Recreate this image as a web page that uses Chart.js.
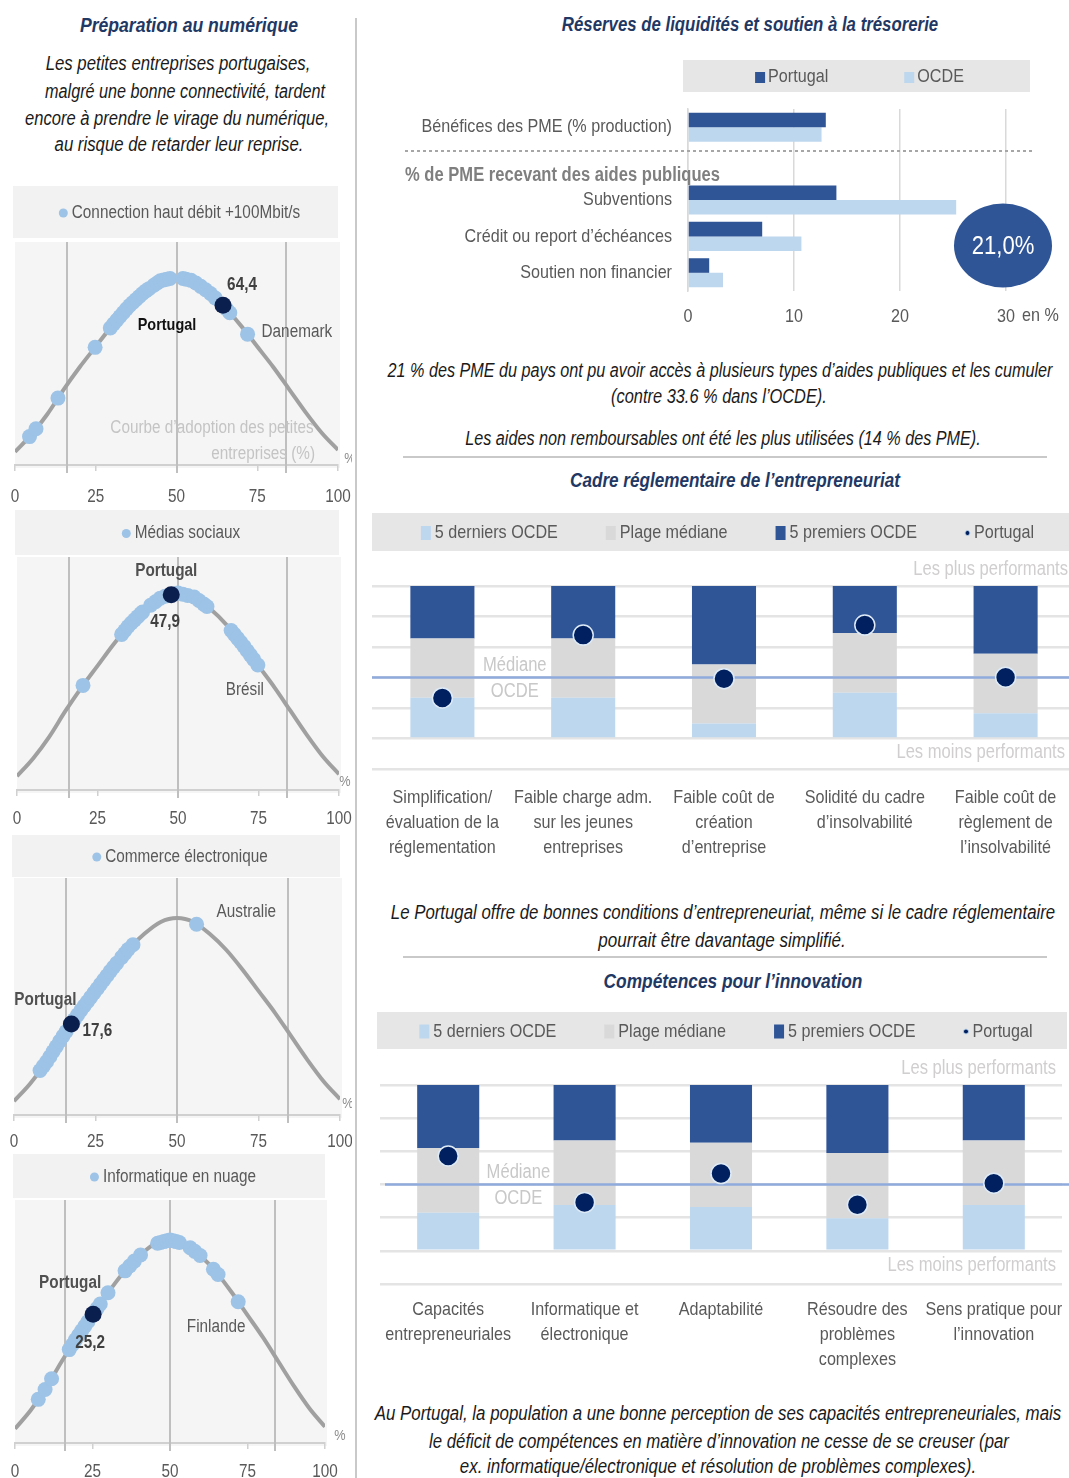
<!DOCTYPE html>
<html lang="fr">
<head>
<meta charset="utf-8">
<title>Portugal – PME : numérique, trésorerie, entrepreneuriat, compétences</title>
<script src="https://cdn.jsdelivr.net/npm/chart.js@4.4.1/dist/chart.umd.min.js"></script>
<style>
  html, body { margin: 0; padding: 0; background: #fff; }
  body {
    width: 1069px; height: 1478px; position: relative; overflow: hidden;
    font-family: "Liberation Sans Narrow", "Arial Narrow", "Liberation Sans", Arial, sans-serif;
  }
  /* centred, horizontally compressed lettering */
  .t { position: absolute; white-space: nowrap; text-align: center;
       transform: translate(-50%, -50%) scaleX(var(--k, 0.85)); }
  .title { font-weight: bold; font-style: italic; color: #1F3864; font-size: 20px; }
  .note { font-style: italic; color: #1a1a1a; font-size: 19.5px; }
  .rule { position: absolute; background: #C9C9C9; }
  canvas { position: absolute; }
</style>
</head>
<body>

<!-- column divider and section rules -->
<div class="rule" style="left:355px; top:18px; width:2px; height:1460px;"></div>
<div class="rule" style="left:403px; top:456px; width:644px; height:2px;"></div>
<div class="rule" style="left:403px; top:956px; width:644px; height:2px;"></div>

<!-- left column text -->
<div class="t title" style="left:189px; top:25px; --k:0.88;">Préparation au numérique</div>
<div class="t note" style="left:178px; top:63px; --k:0.86;">Les petites entreprises portugaises,</div>
<div class="t note" style="left:185px; top:91px; --k:0.83;">malgré une bonne connectivité, tardent</div>
<div class="t note" style="left:177px; top:118px; --k:0.85;">encore à prendre le virage du numérique,</div>
<div class="t note" style="left:179px; top:144px; --k:0.86;">au risque de retarder leur reprise.</div>

<!-- right column text -->
<div class="t title" style="left:750px; top:24px; --k:0.84;">Réserves de liquidités et soutien à la trésorerie</div>
<div class="t note" style="left:720px; top:370px; --k:0.83;">21 % des PME du pays ont pu avoir accès à plusieurs types d’aides publiques et les cumuler</div>
<div class="t note" style="left:719px; top:396px; --k:0.84;">(contre 33.6 % dans l’OCDE).</div>
<div class="t note" style="left:723px; top:438px; --k:0.83;">Les aides non remboursables ont été les plus utilisées (14 % des PME).</div>
<div class="t title" style="left:735px; top:480px; --k:0.855;">Cadre réglementaire de l’entrepreneuriat</div>
<div class="t note" style="left:723px; top:912px; --k:0.862;">Le Portugal offre de bonnes conditions d’entrepreneuriat, même si le cadre réglementaire</div>
<div class="t note" style="left:722px; top:940px; --k:0.875;">pourrait être davantage simplifié.</div>
<div class="t title" style="left:733px; top:981px; --k:0.866;">Compétences pour l’innovation</div>
<div class="t note" style="left:718px; top:1413px; --k:0.865;">Au Portugal, la population a une bonne perception de ses capacités entrepreneuriales, mais</div>
<div class="t note" style="left:719px; top:1441px; --k:0.86;">le déficit de compétences en matière d’innovation ne cesse de se creuser (par</div>
<div class="t note" style="left:718px; top:1466px; --k:0.866;">ex. informatique/électronique et résolution de problèmes complexes).</div>

<!-- charts -->
<canvas id="adopt1" width="352" height="319" style="left:0; top:186px;"></canvas>
<canvas id="adopt2" width="352" height="320" style="left:0; top:510px;"></canvas>
<canvas id="adopt3" width="352" height="320" style="left:0; top:835px;"></canvas>
<canvas id="adopt4" width="352" height="329" style="left:0; top:1154px;"></canvas>
<canvas id="support" width="689" height="280" style="left:380px; top:55px;"></canvas>
<canvas id="regulation" width="704" height="356" style="left:372px; top:513px;"></canvas>
<canvas id="skills" width="692" height="372" style="left:377px; top:1012px;"></canvas>

<script>
const FONT_FAMILY = '"Liberation Sans Narrow", "Arial Narrow", "Liberation Sans", Arial, sans-serif';
const TEXT_SQUEEZE = 0.85;
Chart.defaults.font.family = FONT_FAMILY;
Chart.defaults.color = '#595959';
Chart.defaults.animation = false;

/* ---------------- data ---------------- */

// Adoption curve: height (as % of its peak) at each adoption rate
const CURVE_RATES  = [0, 5, 10, 15, 20, 25, 30, 35, 40, 45, 50, 55, 60, 65, 70, 75, 80, 85, 90, 95, 100];
const CURVE_HEIGHT = [7, 16, 27, 40, 52, 63, 74, 84, 92, 98, 100, 98, 92, 84, 74, 63, 52, 40, 28, 17, 8];
const SIGMA_MARKS  = [16, 50, 84];
const RATE_TICKS   = [0, 25, 50, 75, 100];

// Share of small firms using each technology, by country (%)
const BROADBAND_RATES = [4.5, 6.5, 13.3, 24.8, 29.5, 30.5, 31.5, 32.5, 33.5, 34.5, 35.5, 36.5, 37.5, 38.5,
  39.5, 40.5, 41.5, 43, 44, 45, 46, 47, 48, 52, 53, 54.5, 56, 57.5, 59, 60.5, 62, 65.5, 66.5, 72];
const BROADBAND_PORTUGAL = 64.4;
const BROADBAND_DENMARK = 72;

const SOCIAL_RATES = [20.5, 32.5, 33.5, 34.5, 35.5, 36.5, 37.5, 38.5, 39, 41.5, 43, 44.5, 46, 50, 51.5,
  53, 55, 56.5, 58, 59, 66.5, 67.5, 68.5, 69.5, 70.5, 71.5, 72.5, 73.5, 74.8];
const SOCIAL_PORTUGAL = 47.9;
const SOCIAL_BRAZIL = 74.8;

const ECOMMERCE_RATES = [8, 9, 10, 11, 12, 13, 14, 15, 16, 18.5, 19.5, 20.5, 21.5, 22.5, 23.5, 24.5,
  25.5, 26.5, 27.5, 28.5, 29.5, 30.5, 31.5, 33, 34, 35, 36.5, 56];
const ECOMMERCE_PORTUGAL = 17.6;
const ECOMMERCE_AUSTRALIA = 56;

const CLOUD_RATES = [7.5, 9.7, 11.8, 17.5, 18.5, 19.5, 20.5, 21.5, 22.5, 23.5, 26.5, 27.5, 30, 35.5, 37,
  38.5, 40.5, 46, 47, 48, 49, 50, 51, 52, 53, 56.5, 58, 59.7, 64, 65.5, 72];
const CLOUD_PORTUGAL = 25.2;
const CLOUD_FINLAND = 72;

// Liquidity and cash-flow support (%)
const SUPPORT_LABELS   = ['Bénéfices des PME (% production)', '', 'Subventions', 'Crédit ou report d’échéances', 'Soutien non financier'];
const SUPPORT_PORTUGAL = [13.0, null, 14.0, 7.0, 2.0];
const SUPPORT_OECD     = [12.6, null, 25.3, 10.7, 3.3];
const SUPPORT_TICKS    = [0, 10, 20, 30];
const SUPPORT_HEADING  = '% de PME recevant des aides publiques';
const MULTI_AID_SHARE  = 21.0;

// Normalised scores: bars span SCORE_MIN..SCORE_MAX, split at the edge of the
// five weakest and the five best OECD countries
const SCORE_MIN = 0;
const SCORE_MAX = 5;
const SCORE_AXIS_MIN = -1;
const OECD_MEDIAN = 2;

const REG_LABELS = [
  ['Simplification/', 'évaluation de la', 'réglementation'],
  ['Faible charge adm.', 'sur les jeunes', 'entreprises'],
  ['Faible coût de', 'création', 'd’entreprise'],
  ['Solidité du cadre', 'd’insolvabilité'],
  ['Faible coût de', 'règlement de', 'l’insolvabilité']
];
const REG_BOTTOM5  = [1.34, 1.34, 0.49, 1.50, 0.83];
const REG_TOP5     = [3.28, 3.28, 2.43, 3.46, 2.78];
const REG_PORTUGAL = [1.33, 3.39, 1.96, 3.72, 2.01];

const SKILL_LABELS = [
  ['Capacités', 'entrepreneuriales'],
  ['Informatique et', 'électronique'],
  ['Adaptabilité'],
  ['Résoudre des', 'problèmes', 'complexes'],
  ['Sens pratique pour', 'l’innovation']
];
const SKILL_BOTTOM5  = [1.15, 1.38, 1.32, 0.98, 1.38];
const SKILL_TOP5     = [3.10, 3.33, 3.26, 2.95, 3.33];
const SKILL_PORTUGAL = [2.86, 1.46, 2.33, 1.39, 2.04];

/* ---------------- helpers ---------------- */

const fmtComma = v => v.toFixed(1).replace('.', ',');

// height of the adoption curve at a given rate (points sit on the curve)
function curveAt(rate) {
  for (let i = 1; i < CURVE_RATES.length; i++) {
    if (rate <= CURVE_RATES[i]) {
      const t = (rate - CURVE_RATES[i - 1]) / (CURVE_RATES[i] - CURVE_RATES[i - 1]);
      return CURVE_HEIGHT[i - 1] + t * (CURVE_HEIGHT[i] - CURVE_HEIGHT[i - 1]);
    }
  }
  return CURVE_HEIGHT[CURVE_HEIGHT.length - 1];
}

function font(size, weight) {
  return `${weight || 'normal'} ${size}px ${FONT_FAMILY}`;
}

// narrow lettering on a canvas: text is drawn and measured horizontally compressed
function narrowCanvas(id) {
  const canvas = document.getElementById(id);
  const ctx = canvas.getContext('2d');
  const fill = ctx.fillText.bind(ctx);
  const measure = ctx.measureText.bind(ctx);
  ctx.fillText = (text, x, y) => {
    ctx.save();
    ctx.translate(x, y);
    ctx.scale(TEXT_SQUEEZE, 1);
    fill(text, 0, 0);
    ctx.restore();
  };
  ctx.measureText = text => {
    const m = measure(text);
    return {
      width: m.width * TEXT_SQUEEZE,
      actualBoundingBoxLeft: m.actualBoundingBoxLeft * TEXT_SQUEEZE,
      actualBoundingBoxRight: m.actualBoundingBoxRight * TEXT_SQUEEZE,
      actualBoundingBoxAscent: m.actualBoundingBoxAscent,
      actualBoundingBoxDescent: m.actualBoundingBoxDescent,
      fontBoundingBoxAscent: m.fontBoundingBoxAscent,
      fontBoundingBoxDescent: m.fontBoundingBoxDescent
    };
  };
  return canvas;
}

// a row of legend entries centred on (cx, cy)
function legendRow(ctx, items, cx, cy, gap, size) {
  ctx.save();
  ctx.font = font(size);
  ctx.textBaseline = 'middle';
  ctx.textAlign = 'left';
  const widths = items.map(it => it.mw + it.mg + ctx.measureText(it.text).width);
  let x = cx - (widths.reduce((s, w) => s + w, 0) + gap * (items.length - 1)) / 2;
  items.forEach((it, i) => {
    ctx.fillStyle = it.color;
    if (it.shape === 'dot') {
      ctx.beginPath();
      ctx.arc(x + it.mw / 2, cy + (it.dy || 0), it.mw / 2, 0, Math.PI * 2);
      ctx.fill();
      if (it.ring) { ctx.strokeStyle = it.ring; ctx.lineWidth = 1; ctx.stroke(); }
    } else {
      ctx.fillRect(x, cy + it.dy, it.mw, it.mh);
    }
    ctx.fillStyle = '#595959';
    ctx.fillText(it.text, x + it.mw + it.mg, cy + 1);
    x += widths[i] + gap;
  });
  ctx.restore();
}

function drawText(ctx, text, x, y, o) {
  ctx.save();
  ctx.font = font(o.size || 18, o.bold ? 'bold' : 'normal');
  ctx.fillStyle = o.color || '#595959';
  ctx.textAlign = o.align || 'center';
  ctx.textBaseline = 'middle';
  ctx.fillText(text, x, y);
  ctx.restore();
}

/* ---------------- adoption curves ---------------- */

const adoptionDecor = {
  id: 'adoptionDecor',
  beforeDraw(chart, args, o) {
    const { ctx, chartArea: a } = chart;
    ctx.save();
    ctx.fillStyle = '#F2F2F2';
    ctx.fillRect(a.left - 2, 0, a.right - a.left + 2, o.legendHeight);
    ctx.fillStyle = '#F5F5F5';
    ctx.fillRect(a.left, a.top, a.right - a.left + 2, a.bottom - a.top + 3);
    ctx.restore();
    const ds = chart.data.datasets[1];
    legendRow(ctx, [{ text: ds.label, color: ds.backgroundColor, shape: 'dot', mw: 9, mg: 4, dy: 1 }],
      (a.left + a.right) / 2 + 3, o.legendHeight / 2, 0, 18);
  },
  beforeDatasetsDraw(chart) {
    const { ctx, chartArea: a, scales: { x } } = chart;
    ctx.save();
    ctx.strokeStyle = '#BFBFBF';
    ctx.lineWidth = 2;
    SIGMA_MARKS.forEach(v => {
      const px = Math.round(x.getPixelForValue(v));
      ctx.beginPath();
      ctx.moveTo(px, a.top);
      ctx.lineTo(px, a.bottom + 8);
      ctx.stroke();
    });
    ctx.restore();
  },
  afterDatasetsDraw(chart, args, o) {
    const { ctx, chartArea: a, scales: { x, y } } = chart;
    o.notes.forEach(n => {
      let px, py;
      if (n.rate !== undefined) {
        px = x.getPixelForValue(n.rate) + n.dx;
        py = y.getPixelForValue(curveAt(n.rate)) + n.dy;
      } else {
        px = (n.fromRight ? a.right : a.left) + n.dx;
        py = a.bottom + n.dy;
      }
      drawText(ctx, n.text, px, py, n);
    });
  }
};

function adoptionChart(id, p) {
  return new Chart(narrowCanvas(id), {
    type: 'scatter',
    data: {
      datasets: [
        {
          label: 'Portugal',
          data: [{ x: p.portugal, y: curveAt(p.portugal) }],
          backgroundColor: '#0B1F4F', pointRadius: 8.5, pointBorderWidth: 0, order: 0
        },
        {
          label: p.label,
          data: p.rates.map(r => ({ x: r, y: curveAt(r) })),
          backgroundColor: '#9DC3E6', pointRadius: 7.5, pointBorderWidth: 0, order: 1
        },
        {
          type: 'line', label: 'Courbe',
          data: CURVE_RATES.map((r, i) => ({ x: r, y: CURVE_HEIGHT[i] })),
          borderColor: '#A0A0A0', borderWidth: 4, pointRadius: 0,
          cubicInterpolationMode: 'monotone', order: 2
        }
      ]
    },
    options: {
      responsive: false,
      devicePixelRatio: 1,
      layout: { autoPadding: false, padding: { top: p.padTop, left: p.padLeft, right: p.padRight, bottom: 0 } },
      scales: {
        x: {
          type: 'linear', min: 0, max: 100,
          afterBuildTicks: s => { s.ticks = RATE_TICKS.map(v => ({ value: v })); },
          afterFit: s => { s.height = 40; s.paddingLeft = 0; s.paddingRight = 0; },
          grid: { drawOnChartArea: false, drawTicks: true, tickLength: 6, color: '#D0D0D0', lineWidth: 1.5 },
          border: { color: '#D0D0D0', width: 2 },
          ticks: { font: { size: 18 }, color: '#595959', padding: p.tickPad, maxRotation: 0 }
        },
        y: { display: false, min: 0, max: p.yMax }
      },
      plugins: {
        legend: { display: false },
        tooltip: { enabled: false },
        adoptionDecor: { legendHeight: p.legendH, notes: p.notes }
      }
    },
    plugins: [adoptionDecor]
  });
}

const AXIS_NOTE = { color: '#8C8C8C', size: 15 };

adoptionChart('adopt1', {
  label: 'Connection haut débit +100Mbit/s', rates: BROADBAND_RATES, portugal: BROADBAND_PORTUGAL,
  padTop: 56, padLeft: 15, padRight: 14, legendH: 52, tickPad: 15, yMax: 118.6,
  notes: [
    { text: 'Portugal', rate: BROADBAND_PORTUGAL, dx: -56, dy: 20, bold: true, color: '#111111', size: 17 },
    { text: fmtComma(BROADBAND_PORTUGAL), rate: BROADBAND_PORTUGAL, dx: 19, dy: -20, bold: true, color: '#404040', size: 18 },
    { text: 'Danemark', rate: BROADBAND_DENMARK, dx: 14, dy: -2, align: 'left', size: 18 },
    { text: 'Courbe d’adoption des petites', dx: 197, dy: -37, color: '#C4C4C4', size: 18 },
    { text: 'entreprises (%)', fromRight: true, dx: -23, dy: -11, align: 'right', color: '#C4C4C4', size: 18 },
    { text: '%', fromRight: true, dx: 12, dy: -6, ...AXIS_NOTE }
  ]
});

adoptionChart('adopt2', {
  label: 'Médias sociaux', rates: SOCIAL_RATES, portugal: SOCIAL_PORTUGAL,
  padTop: 47, padLeft: 17, padRight: 13, legendH: 45, tickPad: 12, yMax: 118.3,
  notes: [
    { text: 'Portugal', rate: SOCIAL_PORTUGAL, dx: -5, dy: -24, bold: true, color: '#505050', size: 18 },
    { text: fmtComma(SOCIAL_PORTUGAL), rate: SOCIAL_PORTUGAL, dx: -6, dy: 27, bold: true, color: '#404040', size: 18 },
    { text: 'Brésil', rate: SOCIAL_BRAZIL, dx: -13, dy: 25, size: 18 },
    { text: '%', fromRight: true, dx: 6, dy: -8, ...AXIS_NOTE }
  ]
});

adoptionChart('adopt3', {
  label: 'Commerce électronique', rates: ECOMMERCE_RATES, portugal: ECOMMERCE_PORTUGAL,
  padTop: 43, padLeft: 14, padRight: 12, legendH: 42, tickPad: 10, yMax: 120.3,
  notes: [
    { text: 'Portugal', rate: ECOMMERCE_PORTUGAL, dx: -26, dy: -24, bold: true, color: '#505050', size: 18 },
    { text: fmtComma(ECOMMERCE_PORTUGAL), rate: ECOMMERCE_PORTUGAL, dx: 26, dy: 7, bold: true, color: '#404040', size: 18 },
    { text: 'Australie', rate: ECOMMERCE_AUSTRALIA, dx: 20, dy: -12, align: 'left', size: 18 },
    { text: '%', fromRight: true, dx: 8, dy: -11, ...AXIS_NOTE }
  ]
});

adoptionChart('adopt4', {
  label: 'Informatique en nuage', rates: CLOUD_RATES, portugal: CLOUD_PORTUGAL,
  padTop: 46, padLeft: 15, padRight: 27, legendH: 44, tickPad: 12, yMax: 119.7,
  notes: [
    { text: 'Portugal', rate: CLOUD_PORTUGAL, dx: -23, dy: -31, bold: true, color: '#505050', size: 18 },
    { text: fmtComma(CLOUD_PORTUGAL), rate: CLOUD_PORTUGAL, dx: -3, dy: 29, bold: true, color: '#404040', size: 18 },
    { text: 'Finlande', rate: CLOUD_FINLAND, dx: -22, dy: 25, size: 18 },
    { text: '%', fromRight: true, dx: 15, dy: -7, ...AXIS_NOTE }
  ]
});

/* ---------------- liquidity support bars ---------------- */

const supportDecor = {
  id: 'supportDecor',
  beforeDraw(chart, args, o) {
    const { ctx } = chart;
    ctx.save();
    ctx.fillStyle = '#E7E6E6';
    ctx.fillRect(o.box.x, o.box.y, o.box.w, o.box.h);
    ctx.restore();
    const items = chart.data.datasets.map(d => ({
      text: d.label, color: d.backgroundColor, shape: 'square', mw: 10, mh: 11, dy: -4, mg: 3
    }));
    legendRow(ctx, items, o.box.x + o.box.w / 2 + 3, o.box.y + o.box.h / 2, 76, 19);
  },
  afterDraw(chart, args, o) {
    const { ctx, chartArea: a, scales: { x, y } } = chart;
    // separator between profits and public-support rows
    const sy = Math.round(y.getPixelForValue(0.65));
    ctx.save();
    ctx.strokeStyle = '#A6A6A6';
    ctx.lineWidth = 2;
    ctx.setLineDash([3, 3]);
    ctx.beginPath();
    ctx.moveTo(25, sy);
    ctx.lineTo(a.right + 27, sy);
    ctx.stroke();
    ctx.restore();
    // heading of the public-support block
    drawText(ctx, SUPPORT_HEADING, 25, y.getPixelForValue(1) + 12,
      { align: 'left', bold: true, color: '#7F7F7F', size: 19.5 });
    // unit after the last tick
    const last = SUPPORT_TICKS[SUPPORT_TICKS.length - 1];
    drawText(ctx, 'en %', x.getPixelForValue(last) + 16, x.top + o.tickPad + 19 * 1.2 / 2 - 1,
      { align: 'left', size: 19 });
    // share of firms combining several kinds of support
    const cy = y.getPixelForValue(3.25);
    ctx.save();
    ctx.fillStyle = '#2F5597';
    ctx.beginPath();
    ctx.ellipse(a.right - 3, cy, 49, 42, 0, 0, Math.PI * 2);
    ctx.fill();
    ctx.restore();
    drawText(ctx, fmtComma(MULTI_AID_SHARE) + '%', a.right - 3, cy + 1, { color: '#FFFFFF', size: 26 });
  }
};

new Chart(narrowCanvas('support'), {
  type: 'bar',
  data: {
    labels: SUPPORT_LABELS,
    datasets: [
      { label: 'Portugal', data: SUPPORT_PORTUGAL, backgroundColor: '#2F5597' },
      { label: 'OCDE', data: SUPPORT_OECD, backgroundColor: '#BDD7EE' }
    ]
  },
  options: {
    responsive: false,
    devicePixelRatio: 1,
    indexAxis: 'y',
    categoryPercentage: 0.8,
    barPercentage: 1.0,
    layout: { autoPadding: false, padding: { top: 54, left: 0, right: 63, bottom: 0 } },
    scales: {
      x: {
        min: 0, max: 30,
        afterBuildTicks: s => { s.ticks = SUPPORT_TICKS.map(v => ({ value: v })); },
        afterFit: s => { s.height = 44; s.paddingLeft = 0; s.paddingRight = 0; },
        grid: { color: '#D9D9D9', lineWidth: 1.5, drawTicks: false },
        border: { display: false },
        ticks: { font: { size: 19 }, color: '#595959', padding: 14.5 }
      },
      y: {
        afterFit: s => { s.width = 308; },
        grid: { display: false },
        border: { color: '#D9D9D9', width: 1.5 },
        ticks: { font: { size: 19 }, color: '#595959', padding: 8 }
      }
    },
    plugins: {
      legend: { display: false },
      tooltip: { enabled: false },
      supportDecor: { box: { x: 303, y: 5, w: 347, h: 32 }, tickPad: 14.5 }
    }
  },
  plugins: [supportDecor]
});

/* ---------------- OECD range charts ---------------- */

const rangeDecor = {
  id: 'rangeDecor',
  beforeDraw(chart, args, o) {
    const { ctx } = chart;
    ctx.save();
    ctx.fillStyle = '#E7E6E6';
    ctx.fillRect(0, 0, o.boxWidth, o.boxHeight);
    ctx.restore();
    const items = chart.data.datasets.map(d => d.type === 'line'
      ? { text: d.label, color: d.pointBackgroundColor, shape: 'dot', mw: 5, mg: 4, ring: '#BDD7EE', dy: 1 }
      : { text: d.label, color: d.backgroundColor, shape: 'square', mw: 10, mh: 14, dy: -6, mg: 4 });
    legendRow(ctx, items, o.boxWidth / 2 + o.legendShift, o.boxHeight / 2, 48, 19);
  },
  beforeDatasetDraw(chart, args, o) {
    if (chart.data.datasets[args.index].type !== 'line') return;
    const { ctx, width, scales: { y } } = chart;
    const py = y.getPixelForValue(OECD_MEDIAN);
    ctx.save();
    ctx.strokeStyle = '#8FAADC';
    ctx.lineWidth = 2.5;
    ctx.beginPath();
    ctx.moveTo(o.medianFrom, py);
    ctx.lineTo(width, py);
    ctx.stroke();
    ctx.restore();
  },
  afterDraw(chart, args, o) {
    const { ctx, chartArea: a, scales: { x, y } } = chart;
    const light = { color: '#D0CECE', size: 19.5, align: 'right' };
    drawText(ctx, 'Les plus performants', o.noteRight, a.top - 16, light);
    drawText(ctx, 'Les moins performants', o.noteRight - o.lowShift, y.getPixelForValue(-0.45), light);
    const mx = x.getPixelForValue(0.5) + 2;
    const my = y.getPixelForValue(OECD_MEDIAN);
    drawText(ctx, 'Médiane', mx, my - 12, { color: '#C8C8C8', size: 19.5 });
    drawText(ctx, 'OCDE', mx, my + 14, { color: '#C8C8C8', size: 19.5 });
  }
};

function rangeChart(id, labels, bottom5, top5, portugal, p) {
  return new Chart(narrowCanvas(id), {
    type: 'bar',
    data: {
      labels,
      datasets: [
        { label: '5 derniers OCDE', data: bottom5.map(v => [SCORE_MIN, v]), backgroundColor: '#BDD7EE', order: 3 },
        { label: 'Plage médiane', data: bottom5.map((v, i) => [v, top5[i]]), backgroundColor: '#D9D9D9', order: 3 },
        { label: '5 premiers OCDE', data: top5.map(v => [v, SCORE_MAX]), backgroundColor: '#2F5597', order: 3 },
        {
          type: 'line', label: 'Portugal', data: portugal, showLine: false,
          pointRadius: 10, pointBackgroundColor: '#002060', pointBorderColor: '#DEEBF7',
          pointBorderWidth: 1.5, order: 0
        }
      ]
    },
    options: {
      responsive: false,
      devicePixelRatio: 1,
      barPercentage: 0.455,
      categoryPercentage: 1,
      layout: { autoPadding: false, padding: { top: 73, left: p.padLeft, right: p.padRight, bottom: 0 } },
      datasets: { bar: { grouped: false } },
      scales: {
        x: {
          afterFit: s => { s.height = p.axisHeight; s.paddingLeft = 0; s.paddingRight = 0; },
          grid: { display: false },
          border: { display: false },
          ticks: { font: { size: 19, lineHeight: 1.32 }, color: '#595959', padding: p.tickPad, maxRotation: 0, autoSkip: false }
        },
        y: {
          min: SCORE_AXIS_MIN, max: SCORE_MAX,
          afterFit: s => { s.width = 0; },
          ticks: { display: false, stepSize: 1 },
          grid: { color: '#E4E4E4', lineWidth: 2.5, drawTicks: false },
          border: { display: false }
        }
      },
      plugins: {
        legend: { display: false },
        tooltip: { enabled: false },
        rangeDecor: p.decor
      }
    },
    plugins: [rangeDecor]
  });
}

rangeChart('regulation', REG_LABELS, REG_BOTTOM5, REG_TOP5, REG_PORTUGAL, {
  padLeft: 0, padRight: 0, axisHeight: 100, tickPad: 8.5,
  decor: { boxWidth: 697, boxHeight: 38, legendShift: 7, medianFrom: 0, noteRight: 696, lowShift: 3 }
});

rangeChart('skills', SKILL_LABELS, SKILL_BOTTOM5, SKILL_TOP5, SKILL_PORTUGAL, {
  padLeft: 3, padRight: 7, axisHeight: 100, tickPad: 5.5,
  decor: { boxWidth: 690, boxHeight: 37, legendShift: 4, medianFrom: 8, noteRight: 679, lowShift: 0 }
});
</script>
</body>
</html>
